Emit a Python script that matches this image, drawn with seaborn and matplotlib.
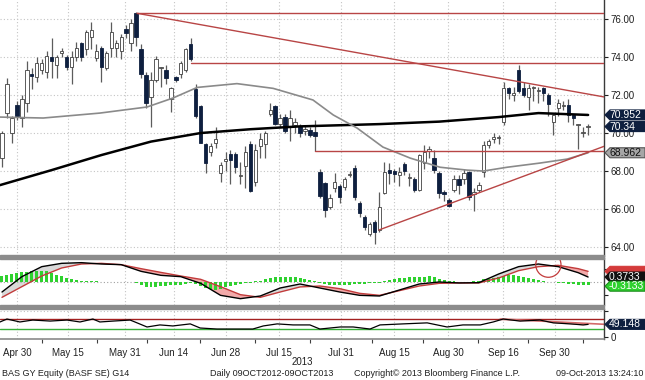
"""BASF daily candles with moving averages, MACD and RSI panels (Bloomberg style)."""

import matplotlib
matplotlib.use("Agg")
import matplotlib.pyplot as plt
from matplotlib.patches import Polygon, Rectangle
import numpy as np
import pandas as pd
import seaborn as sns

# daily candles (Apr 2013 - 09 Oct 2013)
opens = [68.7, 71.05, 70.0, 71.5, 70.8, 71.6, 73.1, 72.95, 73.3, 73.2,
         74.0, 73.6, 74.2, 74.0, 73.5, 74.0, 74.75, 74.4, 75.05, 73.95,
         74.5, 73.4, 74.5, 74.5, 74.3, 75.5, 74.75, 76.3, 74.4, 73.05,
         71.9, 72.8, 73.4, 73.3, 71.8, 72.95, 73.1, 73.3, 74.7, 72.3,
         71.4, 69.4, 69.0, 69.5, 67.9, 68.55, 68.9, 68.9, 67.75, 68.25,
         69.4, 67.4, 69.3, 69.4, 71.0, 71.4, 70.5, 70.85, 70.3, 70.4,
         70.35, 70.1, 70.15, 70.05, 67.95, 67.35, 66.1, 67.1, 67.2, 67.15,
         67.8, 68.15, 66.3, 65.6, 64.7, 65.3, 64.9, 66.85, 68.05, 68.0,
         67.8, 68.35, 67.65, 67.6, 67.0, 68.4, 69.05, 68.7, 67.9, 66.9,
         66.5, 67.0, 67.6, 67.6, 67.95, 66.8, 67.0, 67.95, 69.35, 69.7,
         69.75, 70.6, 72.35, 72.0, 73.3, 72.35, 71.9, 72.35, 72.2, 72.35,
         72.0, 70.6, 71.3, 71.4, 71.5, 70.95, 70.4, 70.0, 70.3]
highs = [70.1, 72.9, 70.9, 71.7, 72.0, 73.8, 73.4, 74.0, 73.9, 74.3,
         75.0, 74.1, 74.5, 74.1, 74.3, 74.8, 74.8, 75.4, 75.85, 74.7,
         74.6, 74.3, 75.85, 74.9, 75.2, 75.7, 76.0, 76.35, 74.7, 73.2,
         73.2, 74.05, 73.5, 73.6, 72.4, 73.0, 73.8, 74.5, 75.0, 72.6,
         71.5, 69.5, 69.5, 70.3, 68.5, 69.0, 69.1, 69.0, 68.5, 69.3,
         69.6, 69.4, 70.0, 70.1, 71.6, 71.5, 71.0, 71.0, 71.2, 70.8,
         70.5, 70.4, 70.3, 70.7, 68.1, 67.4, 66.8, 67.9, 67.3, 67.7,
         68.0, 68.3, 66.4, 65.7, 65.3, 65.4, 66.9, 68.5, 68.4, 68.1,
         68.2, 68.5, 67.9, 67.7, 68.9, 69.35, 69.3, 69.1, 68.0, 67.0,
         66.6, 67.8, 67.8, 68.1, 68.0, 67.1, 67.4, 69.6, 69.7, 70.0,
         69.9, 72.7, 72.4, 72.4, 73.6, 72.7, 72.6, 72.5, 72.4, 72.4,
         72.1, 71.0, 71.8, 71.7, 71.8, 71.0, 70.45, 70.3, 70.5]
lows = [68.2, 70.8, 69.5, 70.7, 70.3, 71.1, 72.3, 72.7, 73.1, 72.9,
        72.9, 72.9, 74.0, 73.3, 72.6, 73.8, 73.8, 74.1, 74.4, 73.8,
        72.7, 73.3, 74.0, 74.0, 73.9, 75.0, 74.3, 74.6, 72.9, 71.3,
        70.3, 72.7, 72.4, 72.6, 71.1, 72.7, 72.9, 73.2, 73.8, 70.8,
        69.5, 67.9, 68.8, 69.2, 67.4, 68.0, 67.3, 67.9, 67.3, 67.1,
        66.9, 67.2, 68.7, 68.7, 70.9, 70.4, 70.3, 70.0, 69.6, 70.0,
        69.8, 69.9, 69.8, 69.05, 66.6, 65.6, 66.0, 66.9, 66.3, 67.0,
        67.7, 66.5, 65.6, 64.9, 64.6, 64.15, 64.8, 66.8, 67.3, 67.4,
        67.2, 67.8, 67.2, 66.9, 66.95, 68.1, 68.7, 67.9, 66.6, 66.4,
        66.1, 66.9, 66.8, 67.3, 66.5, 65.9, 66.9, 67.7, 69.2, 69.5,
        69.4, 70.4, 71.8, 71.7, 72.1, 71.9, 71.2, 71.7, 71.6, 71.7,
        70.9, 69.9, 70.9, 71.2, 70.6, 70.4, 69.15, 69.8, 69.9]
closes = [70.0, 72.6, 70.8, 70.9, 71.8, 73.3, 73.0, 73.7, 73.7, 74.05,
          73.8, 74.0, 74.3, 73.5, 74.0, 74.5, 74.0, 75.3, 75.4, 74.3,
          73.5, 74.2, 75.3, 74.75, 75.05, 75.25, 75.8, 75.05, 73.1, 71.6,
          72.8, 73.9, 73.45, 72.9, 72.35, 72.8, 73.7, 74.4, 73.9, 70.9,
          69.5, 68.4, 69.3, 69.7, 68.3, 68.65, 68.6, 68.2, 67.8, 69.0,
          66.95, 69.1, 69.7, 70.0, 71.2, 70.5, 70.8, 70.1, 70.8, 70.6,
          70.0, 70.2, 69.9, 69.85, 66.7, 65.95, 66.6, 67.4, 66.65, 67.6,
          67.85, 66.65, 65.8, 65.05, 65.2, 64.8, 66.1, 67.95, 67.9, 67.85,
          67.95, 68.0, 67.7, 67.0, 68.85, 69.0, 69.15, 68.05, 66.85, 66.8,
          66.15, 67.6, 67.25, 67.9, 66.65, 66.9, 67.25, 69.35, 69.6, 69.8,
          69.8, 72.35, 72.1, 72.1, 72.2, 72.0, 72.35, 72.4, 72.25, 72.1,
          71.55, 70.95, 71.6, 71.5, 70.95, 70.8, 70.4, 70.05, 70.34]

# moving averages, read at a few candle positions
ma200_idx = [-0.4, 10, 20, 30, 40, 50, 60, 76, 88, 100, 108, 118]
ma200_val = [67.26, 68.05, 68.84, 69.55, 70.0, 70.2, 70.35, 70.47, 70.6, 70.84, 71.05, 70.952]
ma50_idx = [-0.4, 8.3, 19.7, 29.2, 34.4, 39.3, 47.3, 54.6, 62.6, 66.7,
            71.5, 76.7, 82.2, 88.2, 93.6, 96.9, 101.7, 108.3, 113.8, 118]
ma50_val = [70.84, 70.79, 71.05, 71.37, 71.84, 72.4, 72.6, 72.35, 71.74, 70.95,
            70.26, 69.26, 68.68, 68.2, 68.05, 68.0, 68.2, 68.42, 68.63, 68.962]

# MACD panel
macd_idx = [0, 4, 8, 12, 16, 20, 24, 28, 32, 36, 40, 44, 48, 52, 56, 60,
            64, 68, 72, 76, 80, 84, 88, 92, 96, 100, 104, 108, 112, 116, 118]
macd_val = [-0.75, 0.4, 1.15, 1.4, 1.45, 1.35, 1.3, 0.8, 0.5, 0.4, -0.1,
            -1.0, -1.25, -1.05, -0.45, -0.15, -0.45, -0.75, -1.0, -1.05, -0.6,
            -0.15, 0.0, -0.07, -0.05, 0.6, 1.15, 1.35, 1.15, 0.7, 0.3733]
signal_val = [-1.15, -0.35, 0.45, 1.05, 1.35, 1.4, 1.3, 1.0, 0.72, 0.45, 0.2,
              -0.35, -0.95, -1.15, -0.75, -0.37, -0.3, -0.5, -0.85, -1.0, -0.65,
              -0.3, -0.1, -0.07, -0.07, 0.3, 0.85, 1.15, 1.25, 1.0, 0.8]
hist_val = [0.45, 0.52, 0.6, 0.67, 0.75, 0.75, 0.82, 0.82, 0.82, 0.82,
            0.67, 0.52, 0.45, 0.3, 0.22, 0.15, 0.11, 0.075, 0.04, 0.04,
            0.02, 0.02, 0.02, 0.02, 0.02, 0.02, 0.02, -0.04, -0.22, -0.37,
            -0.37, -0.37, -0.3, -0.3, -0.22, -0.22, -0.22, -0.15, -0.075, -0.15,
            -0.3, -0.45, -0.52, -0.6, -0.52, -0.37, -0.3, -0.22, -0.15, -0.075,
            -0.04, 0.04, 0.075, 0.22, 0.3, 0.34, 0.37, 0.37, 0.37, 0.34,
            0.3, 0.22, 0.15, 0.075, -0.075, -0.15, -0.22, -0.22, -0.22, -0.22,
            -0.19, -0.15, -0.15, -0.15, -0.11, -0.075, -0.04, 0.075, 0.15, 0.22,
            0.3, 0.3, 0.37, 0.37, 0.37, 0.37, 0.45, 0.37, 0.22, 0.15,
            0.075, 0.04, 0.02, 0.02, 0.02, 0.04, 0.11, 0.19, 0.22, 0.3,
            0.37, 0.45, 0.49, 0.49, 0.45, 0.37, 0.3, 0.22, 0.15, 0.075,
            0.02, -0.02, -0.04, -0.075, -0.15, -0.15, -0.19, -0.19, -0.19]

# RSI panel
rsi_idx = [-0.4, 1, 3.6, 6.2, 9.7, 13.1, 15.7, 18.3, 19.7, 22.4, 25.8, 27.2,
           29.2, 31.8, 34.4, 37.9, 39.9, 43.3, 46.5, 50.5, 52.6, 55.4, 58.6,
           62.0, 64.0, 68.1, 70.7, 74.1, 76.1, 80.7, 85.6, 89.6, 92.8, 96.3,
           98.9, 100.9, 104.3, 108.3, 111.0, 114.4, 117.0, 118]
rsi_val = [58.5, 70, 58.5, 66, 62, 66, 58.5, 70, 58.5, 62, 66, 55,
           39, 47, 43, 51, 35, 31, 31, 31, 43, 51, 47,
           47, 31, 39, 39, 31, 47, 51, 55, 39, 47, 47,
           58.5, 70, 62, 66, 55, 51, 47, 49.148]

# axis labels
date_pos = [3.1, 13.2, 24.8, 34.6, 45.1, 55.7, 68.3, 78.9, 89.8, 100.9, 111.3]
date_labels = ["Apr 30", "May 15", "May 31", "Jun 14", "Jun 28", "Jul 15",
               "Jul 31", "Aug 15", "Aug 30", "Sep 16", "Sep 30"]
date_bounds = [8.1, 19.1, 29.2, 39.9, 50.9, 62.0, 74.5, 84.8, 95.9, 105.9, 117.0]
price_ticks = [64, 66, 68, 70, 72, 74, 76]

# hand-drawn trend lines (index, price)
trend_lines = [
    ([27.2, 121.2], [76.3, 76.3]),
    ([27.2, 121.2], [76.3, 71.9]),
    ([38.0, 121.2], [73.7, 73.7]),
    ([63.0, 121.2], [69.05, 69.05]),
    ([75.9, 121.2], [64.9, 69.3]),
]
rsi_trend = ([100.3, 121.2], [70.0, 49.5])

NAVY = "#0e1f3f"
RED = "#b84545"
W, H = 645, 380

sns.set_style("white")
plt.rcParams["font.family"] = ["Liberation Sans", "DejaVu Sans"]

fig = plt.figure(figsize=(W / 100, H / 100), dpi=100)


def rect(top, bottom, left=0, right=604):
    return [left / W, 1 - bottom / H, (right - left) / W, (bottom - top) / H]


ax = fig.add_axes(rect(0, 256))
ax_m = fig.add_axes(rect(258, 305), sharex=ax)
ax_r = fig.add_axes(rect(309, 339), sharex=ax)

# ---- candles
o, h, l, c = map(np.asarray, (opens, highs, lows, closes))
idx = np.arange(len(c))
up = c >= o
ax.vlines(idx, l, h, color="#5c5c5c", lw=0.9, zorder=2)
bottom = np.minimum(o, c)
height = np.maximum(np.abs(c - o), 0.05)
ax.bar(idx[up], height[up], bottom=bottom[up], width=0.68, color="white",
       edgecolor="#404040", lw=0.6, zorder=3)
ax.bar(idx[~up], height[~up], bottom=bottom[~up], width=0.68, color=NAVY,
       edgecolor=NAVY, lw=0.6, zorder=3)

ma = pd.DataFrame({"i": ma200_idx, "v": ma200_val})
sns.lineplot(data=ma, x="i", y="v", ax=ax, color="black", lw=1.8, zorder=4)
ma = pd.DataFrame({"i": ma50_idx, "v": ma50_val})
sns.lineplot(data=ma, x="i", y="v", ax=ax, color="#8a8a8a", lw=1.2, zorder=4)
for xs, ys in trend_lines:
    ax.plot(xs, ys, color=RED, lw=1.0, zorder=5)

ax.set_xlim(-0.4, 121.2)
ax.set_ylim(63.53, 77.0)

# ---- MACD
m, s = np.asarray(macd_val), np.asarray(signal_val)
ax_m.fill_between(macd_idx, m, s, where=m >= s, interpolate=True,
                  color="#d9d9d9", lw=0, zorder=1)
ax_m.fill_between(macd_idx, m, s, where=m < s, interpolate=True,
                  color="#f2aaaa", lw=0, zorder=1)
ax_m.axhline(0, color="#a0a0a0", lw=0.8, ls=(0, (1, 2)), zorder=1)
ax_m.bar(idx, hist_val, width=0.6, color="#2fd12f", lw=0, zorder=2)
sns.lineplot(x=macd_idx, y=signal_val, ax=ax_m, color="#c23b3b", lw=1.0, zorder=3)
sns.lineplot(x=macd_idx, y=macd_val, ax=ax_m, color="black", lw=1.0, zorder=4)
ax_m.scatter([110], [1.3], s=330, facecolors="none", edgecolors="#c23b3b",
             lw=0.9, zorder=5)
ax_m.set_ylim(-1.725, 1.8)

# ---- RSI
ax_r.axhline(70, color="#a32020", lw=1.0, zorder=1)
ax_r.axhline(30, color="#36b036", lw=1.0, zorder=1)
ax_r.axhline(100, color="#c0c0c0", lw=0.8, ls=(0, (1, 2)), zorder=1)
sel = [k for k, v in enumerate(rsi_idx) if v >= rsi_trend[0][0]]
fx = np.asarray(rsi_idx)[sel]
fy = np.asarray(rsi_val)[sel]
ax_r.fill_between(fx, fy, np.interp(fx, *rsi_trend), color="#f2b0b0", lw=0)
ax_r.plot(*rsi_trend, color="#d36a6a", lw=1.2, zorder=2)
sns.lineplot(x=rsi_idx, y=rsi_val, ax=ax_r, color="black", lw=0.9, zorder=3)
ax_r.set_ylim(-7.8, 109)

# ---- axes styling
for a in (ax, ax_m, ax_r):
    a.set_xlabel("")
    a.set_ylabel("")
    a.yaxis.tick_right()
    for side in ("left", "top", "bottom"):
        a.spines[side].set_visible(False)
    a.spines["right"].set_color("#3a3a3a")
    a.spines["right"].set_linewidth(1.0)
    a.set_xticks(date_pos)
    a.set_xticks(date_bounds, minor=True)
    a.grid(axis="x", which="major", color="#c4c4c4", lw=0.8, ls=(0, (1, 2)))
    a.tick_params(axis="y", direction="out", length=3, width=0.8,
                  colors="#202020", labelsize=7, pad=2)
    a.tick_params(axis="x", which="both", bottom=False, labelbottom=False)

ax.set_yticks(price_ticks)
ax.set_yticklabels([f"{p:.2f}" for p in price_ticks])
ax.grid(axis="y", color="#c4c4c4", lw=0.8, ls=(0, (1, 2)))
ax_m.set_yticks([-1, 1])
ax_m.set_yticklabels(["", ""])
ax_r.set_yticks([0, 100])
ax_r.set_yticklabels(["0", ""])

ax_r.spines["bottom"].set_visible(True)
ax_r.spines["bottom"].set_color("#8a8a8a")
ax_r.spines["bottom"].set_linewidth(1.2)
ax_r.tick_params(axis="x", which="major", labelbottom=True, bottom=False,
                 labelsize=7, pad=3, colors="#202020")
ax_r.tick_params(axis="x", which="minor", bottom=True, length=3, width=0.8,
                 color="#404040")
ax_r.set_xticklabels(date_labels)

# separators between panels
for top, bot in ((255, 258.5), (305, 309)):
    fig.add_artist(Rectangle((0, 1 - bot / H), 604 / W, (bot - top) / H,
                             transform=fig.transFigure, color="#8c8c8c", zorder=6))


def tag(axis, value, text, face, fg, edge=None):
    """Bloomberg-style last-value tag on the right axis."""
    fig.canvas.draw()
    y = axis.transData.transform((0, value))[1] / fig.dpi * 100
    pts = [(605, y), (610, y + 5), (645, y + 5), (645, y - 5), (610, y - 5)]
    pts = [(px / W, py / H) for px, py in pts]
    fig.add_artist(Polygon(pts, closed=True, transform=fig.transFigure,
                           facecolor=face, edgecolor=edge or face, lw=0.8, zorder=7))
    if text:
        fig.text(609 / W, y / H, text, color=fg, fontsize=7.5, va="center",
                 ha="left", zorder=8)


tag(ax, closes[-1], f"{closes[-1]:.2f}", NAVY, "white")
tag(ax, ma200_val[-1], f"{ma200_val[-1]:.3f}", NAVY, "white")
tag(ax, ma50_val[-1], f"{ma50_val[-1]:.3f}", "#a6a6a6", "#111111", "#555555")
tag(ax_m, signal_val[-1], "", "#d43a3a", "white")
tag(ax_m, macd_val[-1], f"{macd_val[-1]:.4f}", "#111111", "white")
tag(ax_m, -0.3133, "-0.3133", "#2fd12f", "white", "#1a8a1a")
tag(ax_r, rsi_val[-1], f"{rsi_val[-1]:.3f}", NAVY, "white")

fig.text(302 / W, 1 - 362 / H, "2013", fontsize=7, ha="center", va="center",
         color="#202020")
footer_y = 1 - 374 / H
fig.text(2 / W, footer_y, "BAS GY Equity (BASF SE) G14", fontsize=6.5,
         va="center", color="#202020")
fig.text(210 / W, footer_y, "Daily 09OCT2012-09OCT2013", fontsize=6.5,
         va="center", color="#202020")
fig.text(354 / W, footer_y, "Copyright\u00a9 2013 Bloomberg Finance L.P.",
         fontsize=6.5, va="center", color="#202020")
fig.text(643 / W, footer_y, "09-Oct-2013 13:24:10", fontsize=6.5,
         ha="right", va="center", color="#202020")

fig.savefig("out.png", dpi=100)
plt.close(fig)
